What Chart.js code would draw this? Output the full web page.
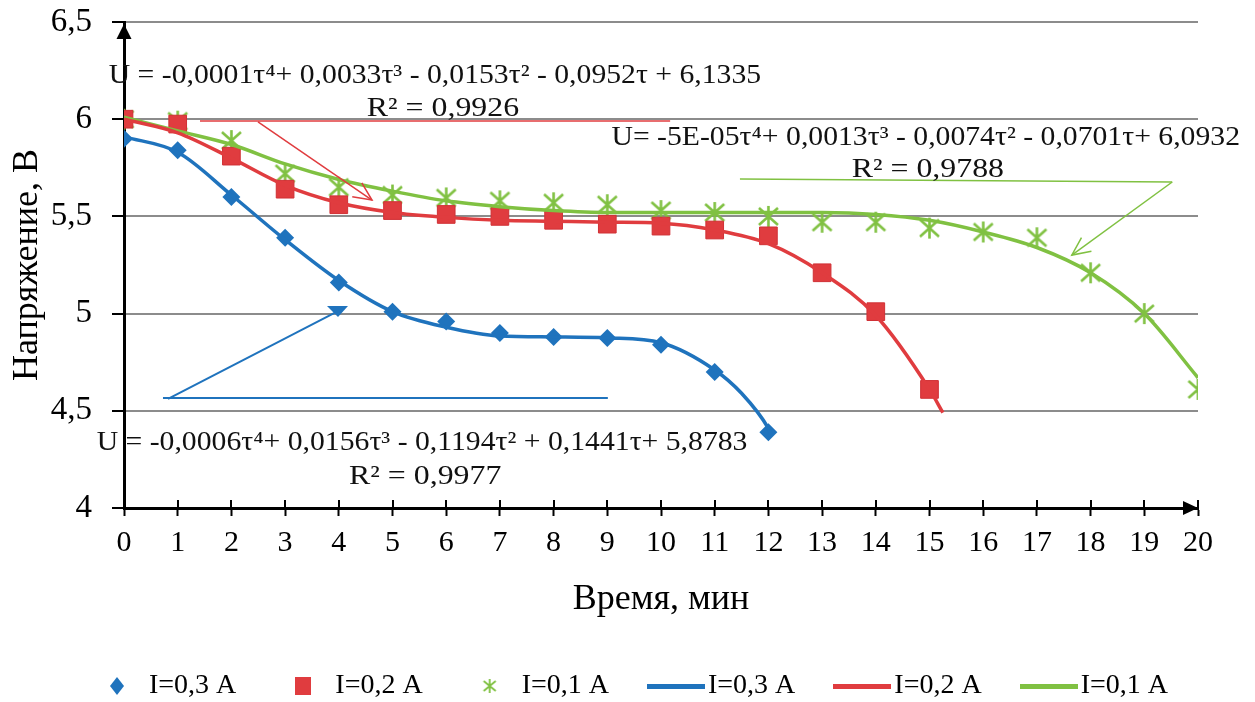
<!DOCTYPE html>
<html><head><meta charset="utf-8">
<script src="https://cdn.jsdelivr.net/npm/chart.js@4.4.1/dist/chart.umd.min.js"></script>
<style>html,body{margin:0;padding:0;background:#fff;}#wrap{width:1255px;height:702px;position:relative;}</style>
</head><body><div id="wrap"><canvas id="c"></canvas></div>
<script>
// ---- data ----
const xTicks = [0,1,2,3,4,5,6,7,8,9,10,11,12,13,14,15,16,17,18,19,20];
const yTicks = [4,4.5,5,5.5,6,6.5];
const tau03 = [0,1,2,3,4,5,6,7,8,9,10,11,12];
const u03 = [5.90,5.84,5.60,5.39,5.16,5.01,4.96,4.90,4.88,4.875,4.84,4.70,4.39];
const tau02 = [0,1,2,3,4,5,6,7,8,9,10,11,12,13,14,15];
const u02 = [6.00,5.975,5.81,5.64,5.56,5.53,5.51,5.50,5.48,5.46,5.45,5.43,5.40,5.21,5.01,4.61];
const tau01 = [0,1,2,3,4,5,6,7,8,9,10,11,12,13,14,15,16,17,18,19,20];
const u01 = [6.00,5.99,5.89,5.72,5.65,5.61,5.595,5.58,5.57,5.56,5.53,5.52,5.50,5.47,5.47,5.44,5.42,5.39,5.21,5.00,4.61];
const trendX03 = [0,1,2,3,4,5,6,7,8,9,10,11,11.5,12,12.05];
const trend03 = [5.91,5.83,5.61,5.38,5.17,5.01,4.93,4.885,4.88,4.875,4.85,4.71,4.59,4.41,4.38];
const trendX02 = [0,1,2,3,4,5,6,7,8,9,10,11,12,13,14,15,15.25];
const trend02 = [6.00,5.93,5.80,5.66,5.57,5.52,5.495,5.48,5.475,5.47,5.465,5.43,5.36,5.21,4.99,4.61,4.49];
const trendX01 = [0,1,2,3,4,5,6,7,8,9,10,11,12,13,14,15,16,17,18,19,20];
const trend01 = [6.01,5.94,5.87,5.77,5.69,5.63,5.58,5.55,5.53,5.52,5.52,5.52,5.52,5.52,5.51,5.48,5.42,5.34,5.21,5.00,4.67];
const seriesLabels = ['I=0,3 A','I=0,2 A','I=0,1 A'];
const equationTexts = [
  'U = -0,0001τ⁴+ 0,0033τ³ - 0,0153τ² - 0,0952τ + 6,1335','R² = 0,9926',
  'U= -5E-05τ⁴+ 0,0013τ³ - 0,0074τ² - 0,0701τ+ 6,0932','R² = 0,9788',
  'U = -0,0006τ⁴+ 0,0156τ³ - 0,1194τ² + 0,1441τ+ 5,8783','R² = 0,9977'
];

// ---- styles ----
const BLUE='#1f73bd', RED='#e03c3f', GREEN='#80c142';
const SERIF="'Liberation Serif','Times New Roman',serif";

function mk(w,h,draw){const c=document.createElement('canvas');c.width=w;c.height=h;draw(c.getContext('2d'),w,h);return c;}
const starMarker = (s,lw)=>mk(s,s,(g,w,h)=>{g.strokeStyle=GREEN;g.lineWidth=lw;g.beginPath();
  g.moveTo(w/2,1);g.lineTo(w/2,h-1);g.moveTo(2,3);g.lineTo(w-2,h-3);g.moveTo(w-2,3);g.lineTo(2,h-3);g.stroke();});
const chartStar = starMarker(23,2.6);
const legendIcons = [
  mk(14,18,(g,w,h)=>{g.fillStyle=BLUE;g.beginPath();g.moveTo(w/2,0);g.lineTo(w,h/2);g.lineTo(w/2,h);g.lineTo(0,h/2);g.closePath();g.fill();}),
  mk(16,18,(g,w,h)=>{g.fillStyle=RED;g.fillRect(0,0,w,h);}),
  starMarker(16,1.8),
  mk(58,5,(g,w,h)=>{g.fillStyle=BLUE;g.fillRect(0,0,w,h);}),
  mk(58,5,(g,w,h)=>{g.fillStyle=RED;g.fillRect(0,0,w,h);}),
  mk(58,5,(g,w,h)=>{g.fillStyle=GREEN;g.fillRect(0,0,w,h);})
];
const pts=(xs,ys)=>xs.map((x,i)=>({x,y:ys[i]}));

const annotations = [
  {t:0,x:5.79,y:6.186},{t:1,x:5.94,y:6.016},
  {t:2,x:14.93,y:5.867},{t:3,x:14.97,y:5.703},
  {t:4,x:5.55,y:4.298},{t:5,x:5.61,y:4.123}
];
const callouts = [
  {color:RED,lw:1.5,line:[[1.415,5.991],[10.17,5.991]],from:[2.495,5.986],to:[4.618,5.584],head:'open'},
  {color:GREEN,lw:1.5,line:[[11.47,5.692],[19.52,5.677]],from:[19.52,5.677],to:[17.65,5.301],head:'open'},
  {color:BLUE,lw:2,line:[[0.726,4.566],[9.01,4.566]],from:[0.82,4.561],to:[3.985,5.013],head:'filled'}
];

const decor = {
  id:'decor',
  afterDraw(chart){
    const {ctx,chartArea:a,scales:{x,y}} = chart;
    ctx.save();
    ctx.strokeStyle='#000';ctx.lineWidth=2;
    x.ticks.forEach((t,i)=>{const px=Math.round(x.getPixelForTick(i));ctx.beginPath();ctx.moveTo(px,a.bottom);ctx.lineTo(px,a.bottom-8);ctx.stroke();});
    ctx.fillStyle='#000';
    ctx.beginPath();ctx.moveTo(a.left,a.top+2);ctx.lineTo(a.left+7.5,a.top+17);ctx.lineTo(a.left-7.5,a.top+17);ctx.closePath();ctx.fill();
    ctx.beginPath();ctx.moveTo(a.right,a.bottom);ctx.lineTo(a.right-15,a.bottom-7);ctx.lineTo(a.right-15,a.bottom+7);ctx.closePath();ctx.fill();
    callouts.forEach(c=>{
      ctx.strokeStyle=c.color;ctx.fillStyle=c.color;ctx.lineWidth=c.lw;
      ctx.beginPath();ctx.moveTo(x.getPixelForValue(c.line[0][0]),y.getPixelForValue(c.line[0][1]));
      ctx.lineTo(x.getPixelForValue(c.line[1][0]),y.getPixelForValue(c.line[1][1]));ctx.stroke();
      const x0=x.getPixelForValue(c.from[0]),y0=y.getPixelForValue(c.from[1]);
      const x1=x.getPixelForValue(c.to[0]),y1=y.getPixelForValue(c.to[1]);
      ctx.beginPath();ctx.moveTo(x0,y0);ctx.lineTo(x1,y1);ctx.stroke();
      const ang=Math.atan2(y1-y0,x1-x0)+Math.PI;
      if(c.head==='open'){
        const L=20,d=25*Math.PI/180;
        ctx.beginPath();ctx.moveTo(x1+L*Math.cos(ang-d),y1+L*Math.sin(ang-d));ctx.lineTo(x1,y1);
        ctx.lineTo(x1+L*Math.cos(ang+d),y1+L*Math.sin(ang+d));ctx.stroke();
      } else {
        ctx.beginPath();ctx.moveTo(x1-11,y1-5);ctx.lineTo(x1+10,y1-5);ctx.lineTo(x1,y1+6);ctx.closePath();ctx.fill();
      }
    });
    ctx.fillStyle='#111';ctx.font='27px '+SERIF;ctx.textAlign='center';ctx.textBaseline='alphabetic';
    annotations.forEach(an=>{
      const px=x.getPixelForValue(an.x),py=y.getPixelForValue(an.y);
      ctx.save();ctx.translate(px,py);ctx.scale(an.t%2?1.18:1.1,1);ctx.fillText(equationTexts[an.t],0,0);ctx.restore();
    });
    ctx.restore();
  }
};

new Chart(document.getElementById('c'),{
  type:'scatter',
  data:{datasets:[
    {label:seriesLabels[0],data:pts(tau03,u03),pointStyle:'rectRot',pointRadius:9,pointBackgroundColor:BLUE,pointBorderColor:BLUE,pointBorderWidth:0,showLine:false,order:1},
    {label:seriesLabels[1],data:pts(tau02,u02),pointStyle:'rect',pointRadius:12.5,pointBackgroundColor:RED,pointBorderColor:'#d03035',pointBorderWidth:1,showLine:false,order:1},
    {label:seriesLabels[2],data:pts(tau01,u01),pointStyle:chartStar,pointRadius:11,showLine:false,order:1},
    {label:seriesLabels[0],data:pts(trendX03,trend03),showLine:true,pointRadius:0,borderColor:BLUE,borderWidth:3.5,cubicInterpolationMode:'monotone',order:0},
    {label:seriesLabels[1],data:pts(trendX02,trend02),showLine:true,pointRadius:0,borderColor:RED,borderWidth:3.5,cubicInterpolationMode:'monotone',order:0},
    {label:seriesLabels[2],data:pts(trendX01,trend01),showLine:true,pointRadius:0,borderColor:GREEN,borderWidth:3.5,cubicInterpolationMode:'monotone',order:0}
  ]},
  options:{
    responsive:true,maintainAspectRatio:false,animation:false,
    layout:{padding:{left:12,right:0,top:22,bottom:-8},autoPadding:false},
    plugins:{
      tooltip:{enabled:false},
      legend:{position:'bottom',
        labels:{usePointStyle:true,pointStyleWidth:36,padding:49,color:'#000',font:{family:SERIF,size:28},
          generateLabels:(chart)=>chart.data.datasets.map((ds,i)=>({text:ds.label,pointStyle:legendIcons[i],fillStyle:'#000',strokeStyle:'#000',lineWidth:0,hidden:false,datasetIndex:i,fontColor:'#000'}))}}
    },
    scales:{
      x:{type:'linear',min:0,max:20,
        afterBuildTicks:s=>{s.ticks=xTicks.map(v=>({value:v}));},
        afterFit:s=>{s.height=702+8-s.chart.legend.height-508;},
        grid:{display:true,drawOnChartArea:false,drawTicks:true,tickLength:8,tickColor:'#000',tickWidth:2},
        border:{display:true,color:'#000',width:3},
        ticks:{color:'#000',font:{family:SERIF,size:30},padding:9,autoSkip:false,maxRotation:0},
        title:{display:true,text:'Время, мин',color:'#000',font:{family:SERIF,size:36},padding:{top:0,bottom:2}}
      },
      y:{type:'linear',min:4,max:6.5,
        afterBuildTicks:s=>{s.ticks=yTicks.map(v=>({value:v}));},
        afterFit:s=>{s.width=112;s.paddingTop=0;s.paddingBottom=0;},
        grid:{color:'#8c8c8c',lineWidth:2,tickLength:12,tickColor:'#000',tickWidth:2},
        border:{display:true,color:'#000',width:3},
        ticks:{color:'#000',font:{family:SERIF,size:33},padding:20,callback:v=>String(v).replace('.',',')},
        title:{display:true,text:'Напряжение, В',color:'#000',font:{family:SERIF,size:36},padding:{top:-6,bottom:0}}
      },
      yR:{type:'linear',position:'right',display:true,afterFit:s=>{s.width=57;s.paddingTop=0;s.paddingBottom=0;},
        grid:{display:false},border:{display:false},ticks:{display:false}}
    }
  },
  plugins:[decor]
});
</script></body></html>
